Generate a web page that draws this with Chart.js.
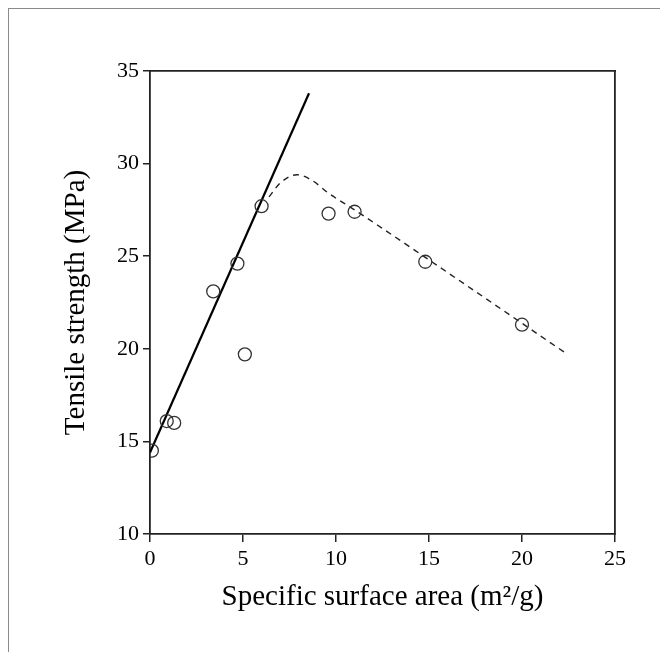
<!DOCTYPE html>
<html>
<head>
<meta charset="utf-8">
<script src="https://cdn.jsdelivr.net/npm/chart.js@4/dist/chart.umd.min.js"></script>
<style>
  html, body { margin: 0; padding: 0; background: #fff; overflow: hidden; }
  #wrap { position: relative; width: 660px; height: 652px; }
  #frame { position: absolute; left: 8px; top: 8px; width: 700px; height: 700px; border: 1px solid #8a8a8a; }
  canvas { position: absolute; left: 0; top: 0; }
</style>
</head>
<body>
<div id="wrap">
  <div id="frame"></div>
  <canvas id="chart" width="660" height="652"></canvas>
</div>
<script>
// measured points
const surfaceArea = [0.1, 0.9, 1.3, 3.4, 4.7, 5.1, 6.0, 9.6, 11.0, 14.8, 20.0];
const strength    = [14.5, 16.1, 16.0, 23.1, 24.6, 19.7, 27.7, 27.3, 27.4, 24.7, 21.3];

// solid linear fit
const linearX = [0, 8.55];
const linearY = [14.4, 33.8];

// dashed trend curve
const trendX = [6.4, 7.0, 7.9, 8.7, 9.6, 11.0, 15.0, 22.3];
const trendY = [28.2, 28.95, 29.4, 29.1, 28.4, 27.5, 24.8, 19.8];

const xTicks = [0, 5, 10, 15, 20, 25];
const yTicks = [10, 15, 20, 25, 30, 35];

const pairs = (xs, ys) => xs.map((x, i) => ({ x: x, y: ys[i] }));

const serif = 'Liberation Serif, Times New Roman, serif';
const axisColor = '#222';

new Chart(document.getElementById('chart').getContext('2d'), {
  type: 'scatter',
  data: {
    datasets: [
      {
        label: 'Measured',
        data: pairs(surfaceArea, strength),
        pointRadius: 6.5,
        pointHoverRadius: 6.5,
        pointBorderWidth: 1.3,
        pointBorderColor: '#333',
        pointBackgroundColor: 'rgba(0,0,0,0)',
        showLine: false,
        order: 0
      },
      {
        label: 'Linear fit',
        data: pairs(linearX, linearY),
        showLine: true,
        borderColor: '#000',
        borderWidth: 2.2,
        pointRadius: 0,
        order: 1
      },
      {
        label: 'Trend',
        data: pairs(trendX, trendY),
        showLine: true,
        borderColor: '#222',
        borderWidth: 1.4,
        borderDash: [6, 5],
        cubicInterpolationMode: 'monotone',
        pointRadius: 0,
        order: 2
      }
    ]
  },
  options: {
    responsive: false,
    animation: false,
    events: [],
    layout: { padding: { left: 0, top: 71, right: 45, bottom: 0 } },
    plugins: {
      legend: { display: false },
      tooltip: { enabled: false }
    },
    scales: {
      x: {
        type: 'linear',
        position: 'bottom',
        min: 0,
        max: 25,
        afterBuildTicks: s => { s.ticks = xTicks.map(v => ({ value: v })); },
        afterFit: s => { s.height = 118; },
        border: { display: true, color: axisColor, width: 1.8 },
        grid: { drawOnChartArea: false, drawTicks: true, tickLength: 8, color: axisColor, lineWidth: 1.5 },
        ticks: { color: '#000', padding: 4, maxRotation: 0, font: { family: serif, size: 22 } },
        title: {
          display: true,
          text: 'Specific surface area (m\u00b2/g)',
          color: '#000',
          font: { family: serif, size: 29 },
          padding: { top: 0, bottom: 37 }
        }
      },
      y: {
        type: 'linear',
        position: 'left',
        min: 10,
        max: 35,
        afterBuildTicks: s => { s.ticks = yTicks.map(v => ({ value: v })); },
        afterFit: s => { s.width = 150; },
        border: { display: true, color: axisColor, width: 1.8 },
        grid: { drawOnChartArea: false, drawTicks: true, tickLength: 7, color: axisColor, lineWidth: 1.5 },
        ticks: { color: '#000', padding: 4, font: { family: serif, size: 22 } },
        title: {
          display: true,
          text: 'Tensile strength (MPa)',
          color: '#000',
          font: { family: serif, size: 29 },
          padding: { top: 59, bottom: 0 }
        }
      },
      x2: {
        type: 'linear',
        position: 'top',
        min: 0,
        max: 25,
        afterFit: s => { s.height = 0; },
        border: { display: true, color: axisColor, width: 1.8 },
        grid: { display: false },
        ticks: { display: false }
      },
      y2: {
        type: 'linear',
        position: 'right',
        min: 10,
        max: 35,
        afterFit: s => { s.width = 0; },
        border: { display: true, color: axisColor, width: 1.8 },
        grid: { display: false },
        ticks: { display: false }
      }
    }
  }
});
</script>
</body>
</html>
